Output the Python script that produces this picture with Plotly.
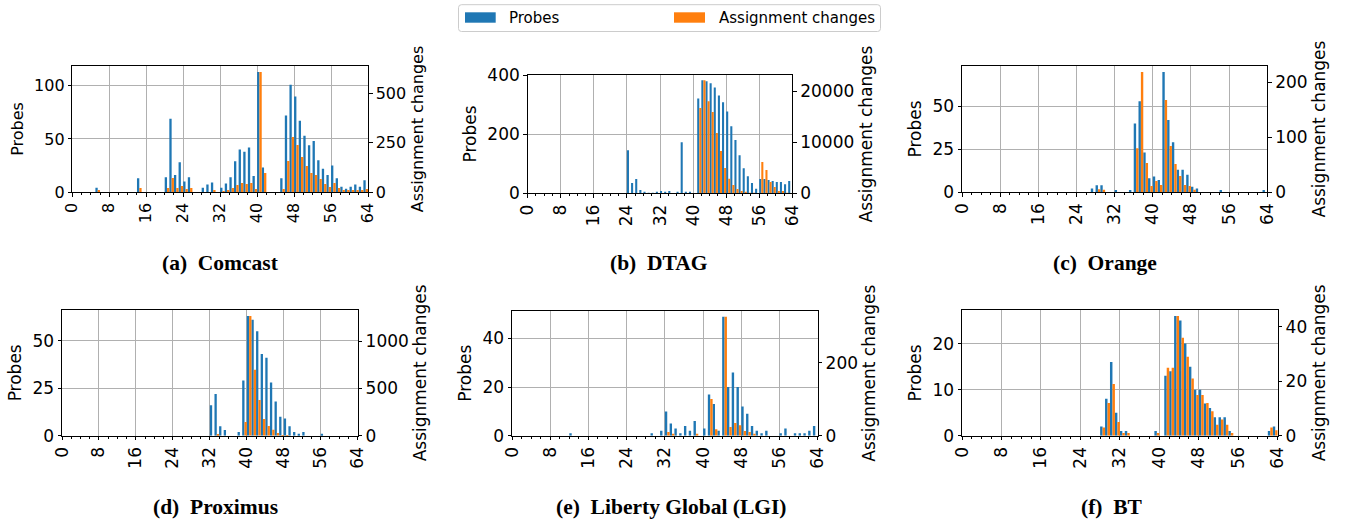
import plotly.graph_objects as go

# ---------------- data ----------------
prefix = list(range(64))

a_probes = [0,0,0,0,0,4,0,0,0,0,0,0,0,0,13,0,
            0,0,0,0,14,69,16,28,10,14,0,0,4,7,9,0,
            4,8,14,29,40,38,42,15,113,23,0,0,0,13,72,101,
            90,67,53,44,48,30,22,16,25,13,5,3,5,7,5,11]
a_assign = [0,0,0,0,0,10,0,0,0,0,0,0,0,0,20,0,
            0,0,0,0,20,71,20,30,15,20,0,0,0,0,10,0,
            5,10,20,35,46,41,46,15,608,96,0,0,0,15,157,279,
            238,177,132,96,86,66,40,25,46,20,10,10,10,10,10,15]

b_probes = [0,0,0,0,0,0,0,0,0,0,0,0,0,0,0,0,
            0,0,0,0,0,0,0,0,146,35,48,11,5,2,2,5,
            8,4,8,0,4,173,4,4,0,321,382,379,372,358,331,308,
            277,227,180,129,85,58,35,15,48,48,45,42,38,38,31,42]
b_assign = [0,0,0,0,0,0,0,0,0,0,0,0,0,0,0,0,
            0,0,0,0,0,0,0,0,0,0,0,0,0,0,0,0,
            0,0,0,0,0,0,0,0,0,16700,22100,18000,15900,11800,8300,4950,
            2870,1630,850,460,260,100,50,0,6100,4560,2200,1240,460,460,100,0]

c_probes = [0,0,0,0,0,0,0,0,0,0,0,0,0,0,0,0,
            0,0,0,0,0,0,0,0,0,0,0,2,4,4,0,0,
            1,0,0,1,40,53,23,8,9,7,70,42,29,13,13,10,
            3,2,0,0,0,0,1,0,0,0,0,0,0,0,0,1]
c_assign = [0,0,0,0,0,0,0,0,0,0,0,0,0,0,0,0,
            0,0,0,0,0,0,0,0,0,0,0,0,5,4,0,0,
            0,0,0,0,80,219,53,11,20,13,168,84,51,29,13,11,
            4,0,0,0,0,0,0,0,0,0,0,0,0,0,0,0]

d_probes = [0,0,0,0,0,0,0,0,0,0,0,0,0,0,0,0,
            0,0,0,0,0,0,0,0,0,0,0,0,0,0,0,0,
            16,22,5,3,0,0,2,29,63,61,55,43,41,28,18,10,
            9,5,2,1,2,0,0,0,1,0,0,0,0,0,0,0]
d_assign = [0,0,0,0,0,0,0,0,0,0,0,0,0,0,0,0,
            0,0,0,0,0,0,0,0,0,0,0,0,0,0,0,0,
            0,18,0,0,0,0,0,145,1265,696,378,177,102,64,28,7,
            5,0,0,0,0,0,0,0,0,0,0,0,0,0,0,0]

e_probes = [0,0,0,0,0,0,0,0,0,0,0,0,1,0,0,0,
            0,0,0,0,0,0,0,0,0,0,0,0,0,1,0,2,
            10,5,3,1,4,2,6,0,3,17,13,2,49,20,26,20,
            12,9,4,2,1,2,0,0,1,3,0,1,1,1,2,4]
e_assign = [0,0,0,0,0,0,0,0,0,0,0,0,0,0,0,0,
            0,0,0,0,0,0,0,0,0,0,0,0,0,0,0,0,
            10,5,0,0,0,0,5,0,0,101,18,0,327,24,35,29,
            13,10,5,0,0,0,0,0,0,0,0,0,0,0,0,0]

f_probes = [0,0,0,0,0,0,0,0,0,0,0,0,0,0,0,0,
            0,0,0,0,0,0,0,0,0,0,0,0,2,8,16,5,
            1,1,0,0,0,0,0,1,0,13,14,26,25,20,15,10,
            10,7,6,4,4,4,1,0,0,0,0,0,0,0,1,2]
f_assign = [0,0,0,0,0,0,0,0,0,0,0,0,0,0,0,0,
            0,0,0,0,0,0,0,0,0,0,0,0,3,12,19,5,
            1,1,0,0,0,0,0,1,0,25,25,44,36,29,21,15,
            15,12,9,4,6,4,1,0,0,0,0,0,0,0,3,2]

captions = ["(a)\u00a0\u00a0Comcast", "(b)\u00a0\u00a0DTAG", "(c)\u00a0\u00a0Orange",
            "(d)\u00a0\u00a0Proximus", "(e)\u00a0\u00a0Liberty Global (LGI)", "(f)\u00a0\u00a0BT"]
x_ticks = [0, 8, 16, 24, 32, 40, 48, 56, 64]
left_dticks = [50, 200, 25, 25, 20, 10]
right_dticks = [250, 10000, 100, 500, 200, 20]
series_names = ["Probes", "Assignment changes"]

# ---------------- layout geometry ----------------
W, H = 1349, 523
# pixel boxes of each panel: (x0, x1, ytop, ybottom)
boxes = [(72.3, 368, 66, 192), (527.7, 792.3, 74.7, 193.3), (962, 1267.3, 66, 192),
         (62, 357.7, 310, 435.7), (512, 817.7, 310.7, 435.7), (962, 1277.7, 310, 435.7)]
cap_pos = [(220, 263), (659, 263), (1105, 263), (216, 507), (671, 507), (1112, 507)]
tick_sizes = [16, 17, 17, 17, 17, 17]

BLUE = "#1f77b4"
ORANGE = "#ff7f0e"
FONT = "DejaVu Sans"

panels = [(a_probes, a_assign), (b_probes, b_assign), (c_probes, c_assign),
          (d_probes, d_assign), (e_probes, e_assign), (f_probes, f_assign)]

fig = go.Figure()


def px(x):
    return x / W


def py(y):
    return 1 - y / H


# custom matplotlib-style legend box (decoration)
r = 3
lx0, lx1, ly0, ly1 = 458.5, 880.5, 4.7, 31.5
path = (f"M {px(lx0 + r)},{py(ly0)} L {px(lx1 - r)},{py(ly0)} "
        f"Q {px(lx1)},{py(ly0)} {px(lx1)},{py(ly0 + r)} L {px(lx1)},{py(ly1 - r)} "
        f"Q {px(lx1)},{py(ly1)} {px(lx1 - r)},{py(ly1)} L {px(lx0 + r)},{py(ly1)} "
        f"Q {px(lx0)},{py(ly1)} {px(lx0)},{py(ly1 - r)} L {px(lx0)},{py(ly0 + r)} "
        f"Q {px(lx0)},{py(ly0)} {px(lx0 + r)},{py(ly0)} Z")
shapes = [dict(type="path", xref="paper", yref="paper", path=path,
               line=dict(color="#cccccc", width=1), fillcolor="white", layer="above")]
legend_items = [(465, 495.7, 507, BLUE, series_names[0]),
                (674, 705, 717, ORANGE, series_names[1])]
annotations = []
for (sx0, sx1, tx, col, name) in legend_items:
    shapes.append(dict(type="rect", xref="paper", yref="paper",
                       x0=px(sx0), x1=px(sx1), y0=py(22.7), y1=py(12.3),
                       line=dict(width=0), fillcolor=col, layer="above"))
    annotations.append(dict(text=name, xref="paper", yref="paper", x=px(tx), y=py(18),
                            xanchor="left", yanchor="middle", showarrow=False,
                            font=dict(family=FONT, size=15, color="#000")))

layout = dict(
    width=W, height=H, margin=dict(l=0, r=0, t=0, b=0, autoexpand=False),
    paper_bgcolor="white", plot_bgcolor="white",
    barmode="overlay", showlegend=False,
    shapes=shapes, annotations=annotations,
)

for k, (probes, assign) in enumerate(panels):
    i = k + 1
    xa = "x" if i == 1 else f"x{i}"
    ya = "y" if i == 1 else f"y{i}"
    yb = f"y{i + 6}"
    x0, x1, yt, ybt = boxes[k]
    fs = tick_sizes[k]
    fig.add_trace(go.Bar(x=prefix, y=probes, width=0.5, offset=0, name=series_names[0],
                         marker=dict(color=BLUE, line=dict(width=0)),
                         xaxis=xa, yaxis=ya))
    fig.add_trace(go.Bar(x=prefix, y=assign, width=0.5, offset=0.5, name=series_names[1],
                         marker=dict(color=ORANGE, line=dict(width=0)),
                         xaxis=xa, yaxis=yb))
    xkey = "xaxis" if i == 1 else f"xaxis{i}"
    ykey = "yaxis" if i == 1 else f"yaxis{i}"
    y2key = f"yaxis{i + 6}"
    dom_y = [1 - ybt / H, 1 - yt / H]
    layout[xkey] = dict(
        domain=[x0 / W, x1 / W], anchor=ya, range=[0, 64], automargin=False,
        tickmode="array", tickvals=x_ticks, ticktext=[str(t) for t in x_ticks],
        tickangle=-90, ticks="outside", ticklen=3.5, tickwidth=1, tickcolor="#000",
        showline=True, linecolor="#000", linewidth=1, mirror=True,
        showgrid=True, gridcolor="#b0b0b0", gridwidth=1, zeroline=False,
        tickfont=dict(family=FONT, size=fs, color="#000"),
        minor=dict(dtick=2, tick0=0, ticks="outside", ticklen=2, tickwidth=1,
                   tickcolor="#000", showgrid=False),
    )
    pmax = max(probes) * 1.05
    amax = max(assign) * 1.05
    layout[ykey] = dict(
        domain=dom_y, anchor=xa, range=[0, pmax], dtick=left_dticks[k], tick0=0,
        automargin=False,
        ticks="outside", ticklen=3.5, tickwidth=1, tickcolor="#000",
        showline=True, linecolor="#000", linewidth=1,
        showgrid=True, gridcolor="#b0b0b0", gridwidth=1, zeroline=False,
        tickfont=dict(family=FONT, size=fs, color="#000"), tickformat="d",
        title=dict(text=series_names[0], font=dict(family=FONT, size=fs, color="#000"), standoff=6),
    )
    layout[y2key] = dict(
        domain=dom_y, anchor=xa, overlaying=ya, side="right", range=[0, amax],
        dtick=right_dticks[k], tick0=0, automargin=False,
        ticks="outside", ticklen=3.5, tickwidth=1, tickcolor="#000",
        showline=True, linecolor="#000", linewidth=1,
        showgrid=False, zeroline=False,
        tickfont=dict(family=FONT, size=fs, color="#000"), tickformat="d",
        title=dict(text=series_names[1], font=dict(family=FONT, size=fs, color="#000"), standoff=6),
    )
    cx, cy = cap_pos[k]
    layout["annotations"].append(dict(
        text="<b>" + captions[k] + "</b>", xref="paper", yref="paper",
        x=cx / W, y=1 - cy / H, xanchor="center", yanchor="middle", showarrow=False,
        font=dict(family="Liberation Serif", size=21.5, color="#000"),
    ))

fig.update_layout(**layout)
fig.write_html("out.html", config={"displayModeBar": False},
               post_script="document.body.style.margin='0px';")
